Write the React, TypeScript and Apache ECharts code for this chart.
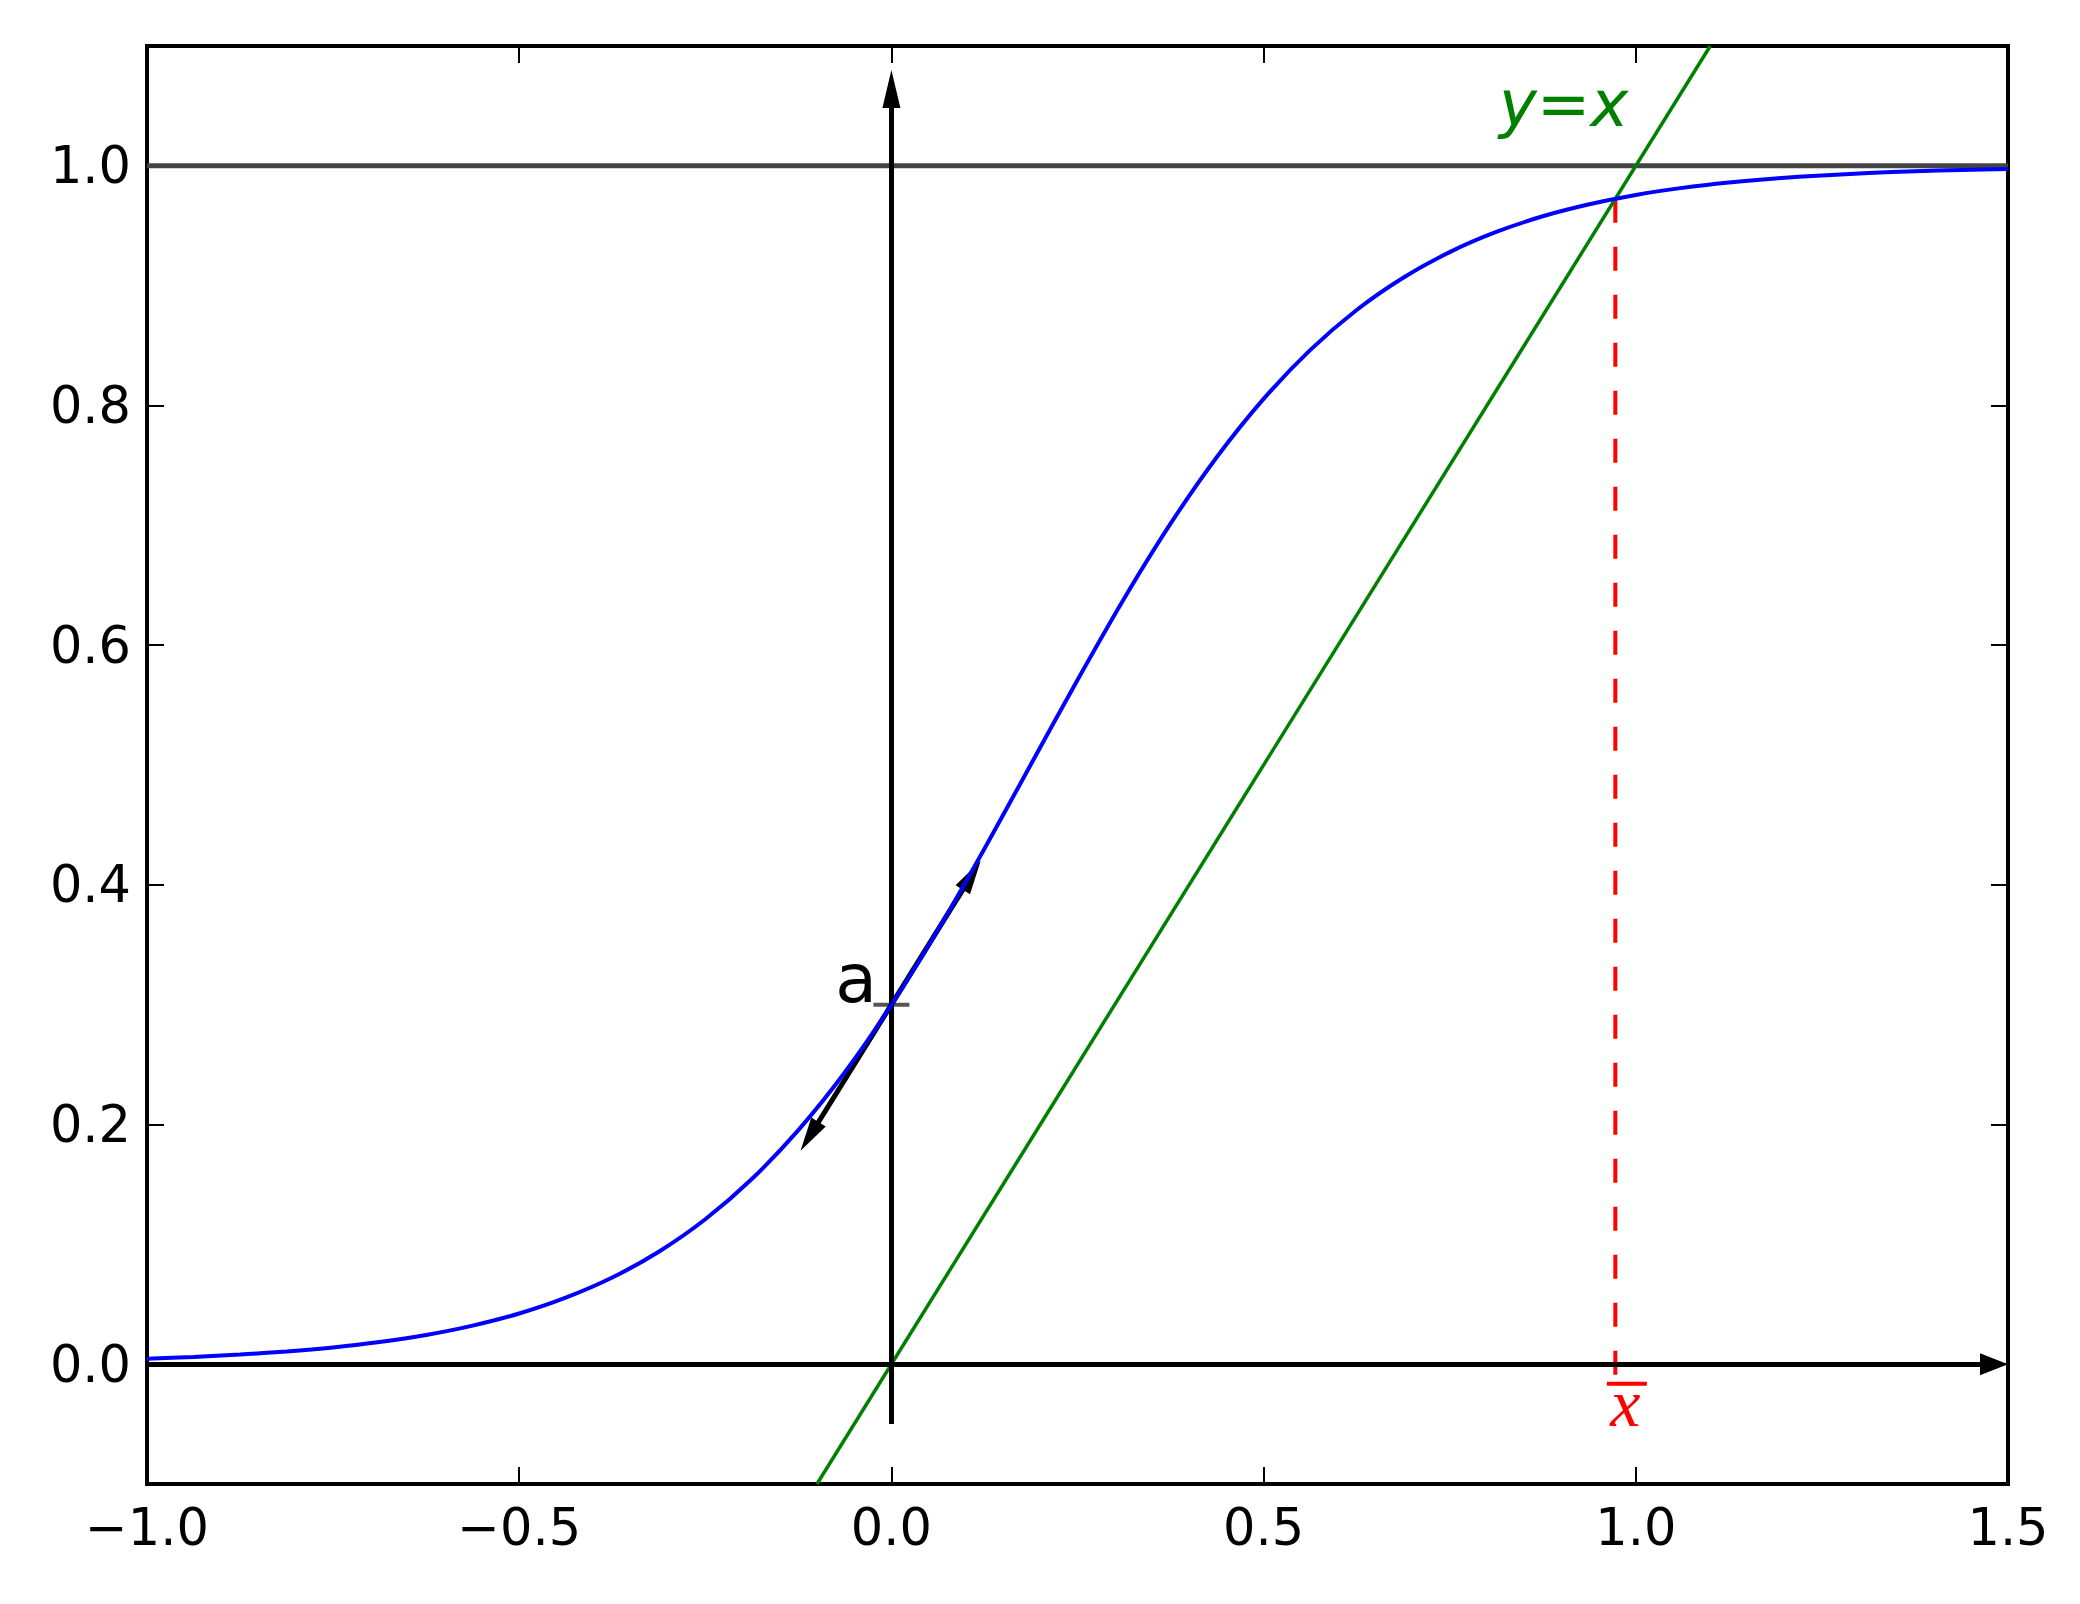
import React, { useEffect, useRef } from "react";
import * as echarts from "echarts";

// ---- data ----
const xTicks = [-1.0, -0.5, 0.0, 0.5, 1.0, 1.5];
const xTickLabels = ["\u22121.0", "\u22120.5", "0.0", "0.5", "1.0", "1.5"];
const yTicks = [0.0, 0.2, 0.4, 0.6, 0.8, 1.0];
const yTickLabels = ["0.0", "0.2", "0.4", "0.6", "0.8", "1.0"];

const curveX = [
  -1.0, -0.9375, -0.875, -0.8125, -0.75, -0.6875, -0.625, -0.5625, -0.5,
  -0.4375, -0.375, -0.3125, -0.25, -0.1875, -0.125, -0.0625, 0.0, 0.0625,
  0.125, 0.1875, 0.25, 0.3125, 0.375, 0.4375, 0.5, 0.5625, 0.625, 0.6875,
  0.75, 0.8125, 0.875, 0.9375, 1.0, 1.0625, 1.125, 1.1875, 1.25, 1.3125,
  1.375, 1.4375, 1.5,
];
const curveY = [
  0.0046, 0.006, 0.008, 0.0106, 0.014, 0.0185, 0.0244, 0.0322, 0.0423,
  0.0555, 0.0723, 0.0938, 0.1209, 0.1545, 0.1953, 0.2436, 0.2997, 0.3623,
  0.4301, 0.5006, 0.571, 0.6388, 0.7014, 0.7572, 0.8055, 0.8462, 0.8797,
  0.9066, 0.928, 0.9448, 0.9579, 0.9679, 0.9757, 0.9816, 0.9861, 0.9895,
  0.992, 0.994, 0.9955, 0.9966, 0.9974,
];

const identityEnds = [-0.1, 1.1]; // y = x
const upperLevel = 1.0;
const xBar = 0.9725;
const xBarBottom = -0.012;
const aPoint = [0.0, 0.3];
const tangentTips = [
  [0.12, 0.42],
  [-0.122, 0.178],
];
const vAxisArrow = { from: [0.0, -0.05], tip: [0.0, 1.08] };
const hAxisArrow = { from: [-1.0, 0.0], tip: [1.5, 0.0] };

const xMin = -1.0;
const xMax = 1.5;
const yMin = -0.1;
const yMax = 1.1;

// ---- layout ----
const W = 2080;
const H = 1604;
const gL = 147;
const gR = 2008;
const gT = 46;
const gB = 1484;
const sx = (gR - gL) / (xMax - xMin);
const sy = (gB - gT) / (yMax - yMin);

const FONT = "DejaVu Sans";

function backOff(from: number[], tip: number[], px: number) {
  const dx = (tip[0] - from[0]) * sx;
  const dy = (tip[1] - from[1]) * sy;
  const len = Math.sqrt(dx * dx + dy * dy);
  return [tip[0] - ((dx / len) * px) / sx, tip[1] - ((dy / len) * px) / sy];
}

function arrowSeries(
  from: number[],
  tip: number[],
  width: number,
  headW: number,
  headL: number,
  z: number
) {
  const end = backOff(from, tip, headL / 2);
  return {
    type: "line",
    data: [from, end],
    symbol: "none",
    lineStyle: { opacity: 0 },
    silent: true,
    z,
    markLine: {
      silent: true,
      animation: false,
      precision: 8,
      label: { show: false },
      emphasis: { disabled: true },
      lineStyle: { color: "#000", width, type: "solid", opacity: 1 },
      symbol: ["none", "triangle"],
      data: [
        [
          { coord: from, symbol: "none" },
          {
            coord: end,
            symbol: "triangle",
            symbolSize: [headW, headL],
            itemStyle: { color: "#000", opacity: 1 },
          },
        ],
      ],
    },
  };
}

function labelSeries(
  pt: number[],
  text: string,
  opts: Record<string, unknown>,
  z = 6
) {
  return {
    type: "scatter",
    data: [pt],
    symbolSize: 1,
    silent: true,
    z,
    itemStyle: { color: "rgba(0,0,0,0)", opacity: 1 },
    label: {
      show: true,
      position: "inside",
      formatter: text,
      align: "center",
      verticalAlign: "middle",
      opacity: 1,
      textBorderWidth: 0,
      ...opts,
    },
  };
}

function nearestLabel(v: number, ticks: number[], labels: string[]) {
  let best = 0;
  for (let i = 1; i < ticks.length; i++) {
    if (Math.abs(ticks[i] - v) < Math.abs(ticks[best] - v)) best = i;
  }
  return labels[best];
}

export default function App() {
  const ref = useRef<HTMLDivElement>(null);

  useEffect(() => {
    if (!ref.current) return;
    const chart = echarts.init(ref.current, null, {
      renderer: "svg",
      width: W,
      height: H,
    });

    const tickStyle = {
      show: true,
      inside: true,
      length: 17,
      lineStyle: { color: "#000", width: 2 },
    };

    const xAxisBase = {
      type: "value",
      min: xMin,
      max: xMax,
      axisLine: { show: false, onZero: false },
      splitLine: { show: false },
    };
    const yAxisBase = {
      type: "value",
      min: yMin,
      max: yMax,
      axisLine: { show: false, onZero: false },
      splitLine: { show: false },
    };

    const option = {
      animation: false,
      backgroundColor: "#ffffff",
      grid: {
        left: gL,
        right: W - gR,
        top: gT,
        bottom: H - gB,
        show: true,
        borderColor: "#000",
        borderWidth: 4,
        backgroundColor: "transparent",
        containLabel: false,
        outerBoundsMode: "none",
      },
      xAxis: [
        {
          ...xAxisBase,
          position: "bottom",
          axisTick: { ...tickStyle, customValues: xTicks },
          axisLabel: {
            show: true,
            customValues: xTicks,
            showMinLabel: true,
            showMaxLabel: true,
            margin: 18,
            fontSize: 51,
            fontFamily: FONT,
            color: "#000",
            formatter: (v: number) => nearestLabel(v, xTicks, xTickLabels),
          },
        },
        {
          ...xAxisBase,
          position: "top",
          axisTick: { ...tickStyle, customValues: xTicks },
          axisLabel: { show: false },
        },
      ],
      yAxis: [
        {
          ...yAxisBase,
          position: "left",
          axisTick: { ...tickStyle, customValues: yTicks },
          axisLabel: {
            show: true,
            customValues: yTicks,
            showMinLabel: true,
            showMaxLabel: true,
            margin: 16,
            fontSize: 51,
            fontFamily: FONT,
            color: "#000",
            formatter: (v: number) => nearestLabel(v, yTicks, yTickLabels),
          },
        },
        {
          ...yAxisBase,
          position: "right",
          axisTick: { ...tickStyle, customValues: yTicks },
          axisLabel: { show: false },
        },
      ],
      series: [
        // horizontal line y = 1
        {
          type: "line",
          data: [
            [xMin, upperLevel],
            [xMax, upperLevel],
          ],
          symbol: "none",
          silent: true,
          z: 2,
          lineStyle: { color: "#444444", width: 5 },
        },
        // red dashed at x-bar
        {
          type: "line",
          data: [
            [xBar, xBar],
            [xBar, xBarBottom],
          ],
          symbol: "none",
          silent: true,
          z: 2,
          lineStyle: { color: "#ff0000", width: 4, type: [24, 24] },
        },
        // axis arrows
        arrowSeries(vAxisArrow.from, vAxisArrow.tip, 5, 18, 38, 3),
        arrowSeries(hAxisArrow.from, hAxisArrow.tip, 5, 22, 28, 3),
        // tangent arrows at a
        arrowSeries(aPoint, tangentTips[0], 5, 17, 34, 3),
        arrowSeries(aPoint, tangentTips[1], 5, 17, 34, 3),
        // gray marker at a
        {
          type: "scatter",
          data: [aPoint],
          symbol: "rect",
          symbolSize: [36, 4],
          silent: true,
          z: 3,
          itemStyle: { color: "#555555", opacity: 1 },
        },
        // y = x
        {
          type: "line",
          data: [
            [identityEnds[0], identityEnds[0]],
            [identityEnds[1], identityEnds[1]],
          ],
          symbol: "none",
          silent: true,
          z: 4,
          lineStyle: { color: "#008000", width: 3.5 },
        },
        // blue curve
        {
          type: "line",
          data: curveX.map((x, i) => [x, curveY[i]]),
          symbol: "none",
          smooth: 0.25,
          silent: true,
          z: 5,
          lineStyle: { color: "#0000ff", width: 4 },
        },
        // x-bar overline
        {
          type: "scatter",
          data: [[0.988, -0.0163]],
          symbol: "rect",
          symbolSize: [40, 4],
          silent: true,
          z: 6,
          itemStyle: { color: "#ff0000", opacity: 1 },
        },
        labelSeries([0.986, -0.032], "x", {
          fontSize: 68,
          fontFamily: "Liberation Serif",
          fontStyle: "italic",
          color: "#ff0000",
        }),
        labelSeries([-0.0476, 0.322], "a", {
          fontSize: 68,
          fontFamily: FONT,
          color: "#000000",
        }),
        labelSeries([0.903, 1.052], "y=x", {
          fontSize: 64,
          fontFamily: FONT,
          fontStyle: "italic",
          color: "#008000",
        }),
      ],
    };

    chart.setOption(option as any);
    return () => chart.dispose();
  }, []);

  return (
    <div
      ref={ref}
      style={{
        position: "fixed",
        left: 0,
        top: 0,
        width: W,
        height: H,
        background: "#fff",
      }}
    />
  );
}
